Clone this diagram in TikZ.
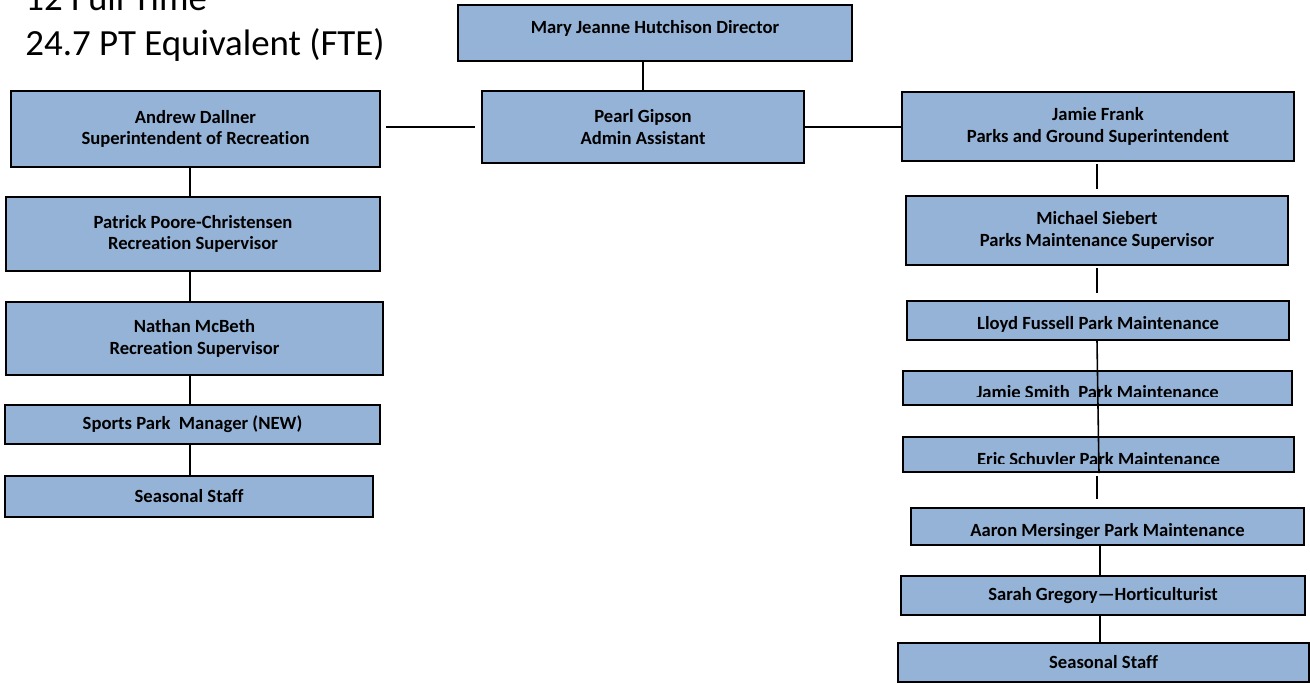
\documentclass[tikz,border=0pt]{standalone}
\usepackage{fontspec}
\setmainfont{Carlito}[Ligatures=NoCommon]
\definecolor{boxblue}{RGB}{149,179,215}

\begin{document}
\begin{tikzpicture}[x=0.02cm, y=-0.02cm,                        % one unit = one pixel of the chart
    box/.style={draw, fill=boxblue, line width=1.4pt, inner sep=0pt},
    lbl/.style={font=\bfseries\fontsize{10.6}{12.3}\selectfont, align=center},
    conn/.style={line width=0.9pt}]
    \useasboundingbox (0,0) rectangle (1310,683);

    % head count
    \node[anchor=base west, inner sep=0pt, font=\fontsize{21}{25}\selectfont] (full) at (25,10) {12 Full Time};
    \node[anchor=base west, inner sep=0pt, font=\fontsize{21}{25}\selectfont] (fte) at (25,55) {24.7 PT Equivalent (FTE)};

    % top
    \node[box, minimum width=7.88cm, minimum height=1.12cm] (dir) at (655,33) {};
    \node[lbl, anchor=base] (dirt) at (dir.center) {Mary Jeanne Hutchison Director};
    \node[box, lbl, minimum width=6.44cm, minimum height=1.44cm] (admin) at (643,127) {Pearl Gipson\\Admin Assistant};

    % recreation side
    \node[box, lbl, minimum width=7.38cm, minimum height=1.52cm] (rec) at (195.5,129) {Andrew Dallner\\Superintendent of Recreation};
    \node[box, lbl, minimum width=7.48cm, minimum height=1.48cm] (pat) at (193,234) {Patrick Poore-Christensen\\Recreation Supervisor};
    \node[box, lbl, minimum width=7.54cm, minimum height=1.46cm] (nat) at (194.5,338.5) {Nathan McBeth\\Recreation Supervisor};
    \node[box, lbl, minimum width=7.50cm, minimum height=0.78cm] (sports) at (192.5,424.5) {Sports Park~ Manager (NEW)};
    \node[box, lbl, minimum width=7.36cm, minimum height=0.82cm] (seasl) at (189,496.5) {Seasonal Staff};

    % parks side
    \node[box, lbl, minimum width=7.84cm, minimum height=1.38cm] (parks) at (1098,126.5) {Jamie Frank\\Parks and Ground Superintendent};
    \node[box, lbl, minimum width=7.64cm, minimum height=1.38cm] (mike) at (1097,230.5) {Michael Siebert\\Parks Maintenance Supervisor};

    \node[box, minimum width=7.64cm, minimum height=0.78cm] (lloyd) at (1098,320.5) {};
    \begin{scope}
        \clip (lloyd.north west) rectangle ([yshift=0.2cm]lloyd.south east);
        \node[lbl, anchor=base] (lloydt) at ([yshift=-0.17cm]lloyd.center) {Lloyd Fussell Park Maintenance};
    \end{scope}
    \node[box, minimum width=7.78cm, minimum height=0.68cm] (jsmith) at (1097.5,388) {};
    \begin{scope}
        \clip (jsmith.north west) rectangle ([yshift=0.2cm]jsmith.south east);
        \node[lbl, anchor=base] (jsmitht) at ([yshift=-0.2cm]jsmith.center) {Jamie Smith~ Park Maintenance};
    \end{scope}
    \node[box, minimum width=7.82cm, minimum height=0.70cm] (eric) at (1098.5,454.5) {};
    \begin{scope}
        \clip (eric.north west) rectangle ([yshift=0.2cm]eric.south east);
        \node[lbl, anchor=base] (erict) at ([yshift=-0.21cm]eric.center) {Eric Schuyler Park Maintenance};
    \end{scope}
    \node[box, minimum width=7.86cm, minimum height=0.74cm] (aaron) at (1107.5,526.5) {};
    \begin{scope}
        \clip (aaron.north west) rectangle ([yshift=0.16cm]aaron.south east);
        \node[lbl, anchor=base] (aaront) at ([yshift=-0.19cm]aaron.center) {Aaron Mersinger Park Maintenance};
    \end{scope}
    \node[box, lbl, minimum width=8.08cm, minimum height=0.78cm] (sarah) at (1103,595.5) {Sarah Gregory---Horticulturist};
    \node[box, lbl, minimum width=8.22cm, minimum height=0.78cm] (seasr) at (1103.5,662.5) {Seasonal Staff};

    % connectors
    \coordinate (lspine) at (190,0);
    \coordinate (rspine) at (1097,0);
    \coordinate (rspinetwo) at (1100,0);
    \draw[conn] (admin.north) -- (admin.north |- dir.south);
    \draw[conn, shorten <=0.12cm, shorten >=0.1cm] (admin.west) -- (rec.east |- admin.west);
    \draw[conn] (admin.east) -- (parks.west |- admin.east);

    \draw[conn] (rec.south -| lspine) -- (pat.north -| lspine);
    \draw[conn] (pat.south -| lspine) -- (nat.north -| lspine);
    \draw[conn] (nat.south -| lspine) -- (sports.north -| lspine);
    \draw[conn] (sports.south -| lspine) -- (seasl.north -| lspine);

    \draw[conn, shorten <=0.04cm, shorten >=0.12cm] (parks.south -| rspine) -- (mike.north -| rspine);
    \draw[conn, shorten <=0.04cm, shorten >=0.14cm] (mike.south -| rspine) -- (lloyd.north -| rspine);
    \draw[conn] (lloyd.south -| rspine) -- ([xshift=0.04cm]eric.south -| rspine);
    \draw[conn, shorten <=0.06cm, shorten >=0.16cm] (eric.south -| rspine) -- (aaron.north -| rspine);
    \draw[conn] (aaron.south -| rspinetwo) -- (sarah.north -| rspinetwo);
    \draw[conn] (sarah.south -| rspinetwo) -- (seasr.north -| rspinetwo);
\end{tikzpicture}
\end{document}
